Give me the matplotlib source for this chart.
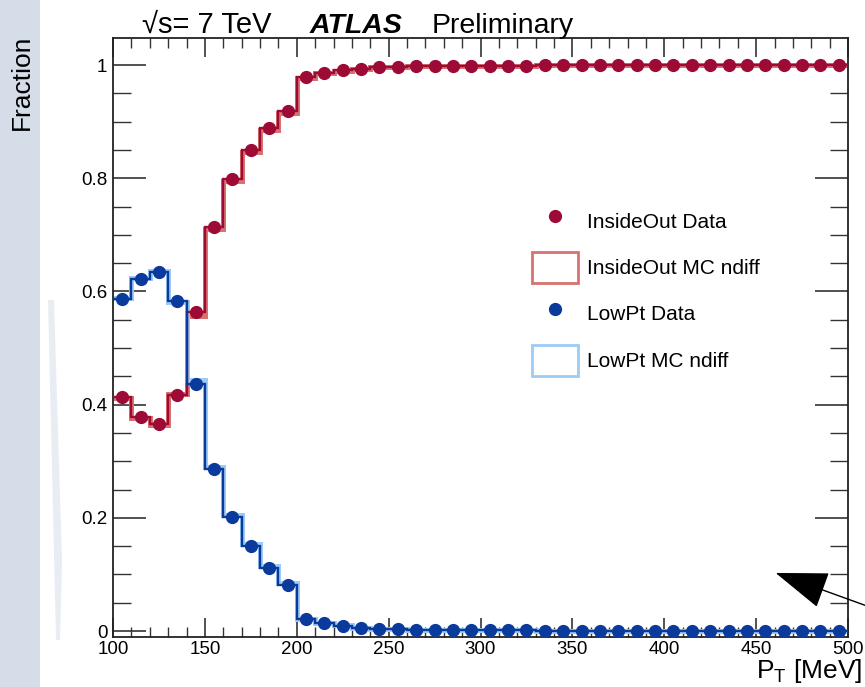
import numpy as np
import matplotlib
matplotlib.use("Agg")
import matplotlib.pyplot as plt
from matplotlib.lines import Line2D
from matplotlib.patches import Patch, Rectangle, Polygon, FancyArrowPatch
from matplotlib.ticker import MultipleLocator, FixedLocator, FixedFormatter

plt.rcParams['font.family'] = ['Liberation Sans', 'DejaVu Sans']

# ---- data ----
edges = np.arange(100, 501, 10)
centers = edges[:-1] + 5

insideout_data = [0.413, 0.378, 0.366, 0.417, 0.564, 0.714, 0.799, 0.850, 0.889, 0.919,
                  0.979, 0.986, 0.991, 0.994, 0.996, 0.997, 0.998, 0.998, 0.999, 0.999,
                  0.999, 0.999, 0.999, 1.000, 1.000, 1.000, 1.000, 1.000, 1.000, 1.000,
                  1.000, 1.000, 1.000, 1.000, 1.000, 1.000, 1.000, 1.000, 1.000, 1.000]
insideout_mc = [0.412, 0.377, 0.364, 0.418, 0.557, 0.710, 0.795, 0.846, 0.885, 0.916,
                0.978, 0.986, 0.990, 0.994, 0.996, 0.997, 0.998, 0.998, 0.999, 0.999,
                0.999, 0.999, 0.999, 1.000, 1.000, 1.000, 1.000, 1.000, 1.000, 1.000,
                1.000, 1.000, 1.000, 1.000, 1.000, 1.000, 1.000, 1.000, 1.000, 1.000]
lowpt_data = [0.587, 0.622, 0.634, 0.583, 0.436, 0.286, 0.201, 0.150, 0.111, 0.081,
              0.021, 0.014, 0.009, 0.006, 0.004, 0.003, 0.002, 0.002, 0.001, 0.001,
              0.001, 0.001, 0.001, 0.000, 0.000, 0.000, 0.000, 0.000, 0.000, 0.000,
              0.000, 0.000, 0.000, 0.000, 0.000, 0.000, 0.000, 0.000, 0.000, 0.000]
lowpt_mc = [0.588, 0.623, 0.636, 0.582, 0.443, 0.290, 0.205, 0.154, 0.115, 0.084,
            0.022, 0.014, 0.010, 0.006, 0.004, 0.003, 0.002, 0.002, 0.001, 0.001,
            0.001, 0.001, 0.001, 0.000, 0.000, 0.000, 0.000, 0.000, 0.000, 0.000,
            0.000, 0.000, 0.000, 0.000, 0.000, 0.000, 0.000, 0.000, 0.000, 0.000]

xticks = [100, 150, 200, 250, 300, 350, 400, 450, 500]
xticklabels = ['100', '150', '200', '250', '300', '350', '400', '450', '500']
yticks = [0, 0.2, 0.4, 0.6, 0.8, 1.0]
yticklabels = ['0', '0.2', '0.4', '0.6', '0.8', '1']

red_dark = '#9c0a35'
red_light = '#d9726e'
blue_dark = '#0a3a9c'
blue_light = '#9ccbf5'

W, H = 865, 687
fig = plt.figure(figsize=(W / 100, H / 100), dpi=100)
fig.patch.set_facecolor('white')

# slide background strip on the left
fig.patches.append(Rectangle((0, 0), 40 / W, 1, transform=fig.transFigure,
                             facecolor='#d5dde9', edgecolor='none', zorder=0))
fig.patches.append(Polygon([(48 / W, 1 - 300 / H), (54 / W, 1 - 300 / H),
                            (62 / W, 1 - 560 / H), (60 / W, 1 - 640 / H),
                            (56 / W, 1 - 640 / H)], closed=True,
                           transform=fig.transFigure,
                           facecolor='#e8edf4', edgecolor='none', zorder=0))

ax = fig.add_axes([113 / W, 1 - 637 / H, 735 / W, 599 / H])
ax.set_xlim(100, 500)
ax.set_ylim(-0.0106, 1.048)

# MC (light, thick) histograms
ax.stairs(insideout_mc, edges, baseline=None, color=red_light, lw=3.6, zorder=2)
ax.stairs(lowpt_mc, edges, baseline=None, color=blue_light, lw=3.6, zorder=2)
# data step lines
ax.stairs(insideout_data, edges, baseline=None, color=red_dark, lw=1.7, zorder=3)
ax.stairs(lowpt_data, edges, baseline=None, color=blue_dark, lw=1.7, zorder=3)
# data markers
ax.plot(centers, insideout_data, 'o', color=red_dark, ms=8.5, zorder=4)
ax.plot(centers, lowpt_data, 'o', color=blue_dark, ms=8.5, zorder=4)

# ticks ROOT style
ax.xaxis.set_major_locator(FixedLocator(xticks))
ax.xaxis.set_major_formatter(FixedFormatter(xticklabels))
ax.xaxis.set_minor_locator(MultipleLocator(10))
ax.yaxis.set_major_locator(FixedLocator(yticks))
ax.yaxis.set_major_formatter(FixedFormatter(yticklabels))
ax.yaxis.set_minor_locator(MultipleLocator(0.05))
ax.tick_params(axis='both', which='both', direction='in', top=True, right=True,
               labelsize=13.5, color='#333333')
ax.tick_params(axis='x', which='major', length=14, width=1.2, pad=3)
ax.tick_params(axis='x', which='minor', length=7, width=1.0)
ax.tick_params(axis='y', which='major', length=24, width=1.2, pad=4)
ax.tick_params(axis='y', which='minor', length=13, width=1.0)
for s in ax.spines.values():
    s.set_linewidth(1.3)
    s.set_color('#222222')

# axis labels
fig.text(862 / W, 1 - 685 / H, r'P$_{\mathregular{T}}$ [MeV]', ha='right', va='bottom',
         fontsize=19)
fig.text(22 / W, 1 - 35 / H, 'Fraction', rotation=90, ha='center', va='top', fontsize=19)

# title
fig.text(142 / W, 1 - 33 / H, '√s= 7 TeV', ha='left', va='baseline', fontsize=21)
fig.text(310 / W, 1 - 33 / H, 'ATLAS', ha='left', va='baseline', fontsize=20.5,
         fontweight='bold', fontstyle='italic')
fig.text(432 / W, 1 - 33 / H, 'Preliminary', ha='left', va='baseline', fontsize=20.5)

# legend
handles = [
    Line2D([], [], marker='o', ls='none', color=red_dark, ms=8.5),
    Patch(facecolor='none', edgecolor=red_light, lw=2),
    Line2D([], [], marker='o', ls='none', color=blue_dark, ms=8.5),
    Patch(facecolor='none', edgecolor=blue_light, lw=2),
]
labels = ['InsideOut Data', 'InsideOut MC ndiff', 'LowPt Data', 'LowPt MC ndiff']
leg = ax.legend(handles, labels, loc='upper left', bbox_to_anchor=(522 / W, 1 - 195 / H),
                bbox_transform=fig.transFigure, frameon=False, fontsize=15,
                handlelength=2.2, handleheight=1.9, labelspacing=0.75, handletextpad=0.4,
                borderpad=0)

# arrow
fig.add_artist(FancyArrowPatch(
    posA=(878, H - 610), posB=(773, H - 572), transform=None,
    arrowstyle='-|>,head_length=34,head_width=12', mutation_scale=1,
    color='black', lw=1.0))

fig.savefig('out.png', dpi=100)
